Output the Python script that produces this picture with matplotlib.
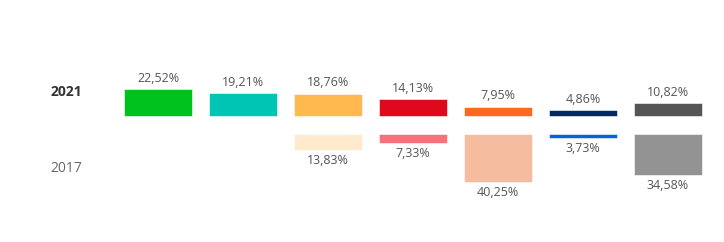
import matplotlib
matplotlib.use("Agg")
import matplotlib.pyplot as plt

parties = ["P1", "P2", "P3", "P4", "P5", "P6", "P7"]
values_2021 = [22.52, 19.21, 18.76, 14.13, 7.95, 4.86, 10.82]
values_2017 = [None, None, 13.83, 7.33, 40.25, 3.73, 34.58]
colors_2021 = ["#00C21F", "#00C5B4", "#FFB94F", "#E0081D", "#FF691F", "#012A62", "#555555"]
colors_2017 = [None, None, "#FFEBCC", "#F8717A", "#F5BC9F", "#0761DA", "#939393"]
year_labels = ["2021", "2017"]

plt.rcParams['font.family'] = ['Open Sans', 'DejaVu Sans']

W, H = 724, 242
fig = plt.figure(figsize=(W / 100, H / 100), dpi=100)
ax = fig.add_axes([0, 0, 1, 1])
ax.axis("off")

px_per_unit_x = 85.0
x0_px = 158.0
px_per_pct = 1.19
base_px = 116.0
gap = (134.0 - 116.0) / px_per_pct

ax.set_xlim(-x0_px / px_per_unit_x, (W - x0_px) / px_per_unit_x)
ax.set_ylim(-(H - base_px) / px_per_pct, base_px / px_per_pct)

width = 68 / 85.0
txt_color = "#555555"
for i, (v, c) in enumerate(zip(values_2021, colors_2021)):
    ax.bar(i, v, width=width, bottom=0, color=c, edgecolor="white", linewidth=0.4)
    ax.annotate(f"{v:.2f}".replace(".", ",") + "%", (i, v), xytext=(0, 8),
                textcoords="offset points", ha="center", va="center",
                fontsize=9, color=txt_color)
for i, (v, c) in enumerate(zip(values_2017, colors_2017)):
    if v is None:
        continue
    ax.bar(i, -v, width=width, bottom=-gap, color=c, edgecolor="white", linewidth=0.4)
    ax.annotate(f"{v:.2f}".replace(".", ",") + "%", (i, -gap - v), xytext=(0, -7.5),
                textcoords="offset points", ha="center", va="center",
                fontsize=9, color=txt_color)

fig.text(66 / W, 1 - 92 / H, year_labels[0], ha="center", va="center",
         fontsize=10, fontweight="bold", color="#333333")
fig.text(66 / W, 1 - 169 / H, year_labels[1], ha="center", va="center",
         fontsize=10, color="#666666")

fig.savefig("out.png", dpi=100)
